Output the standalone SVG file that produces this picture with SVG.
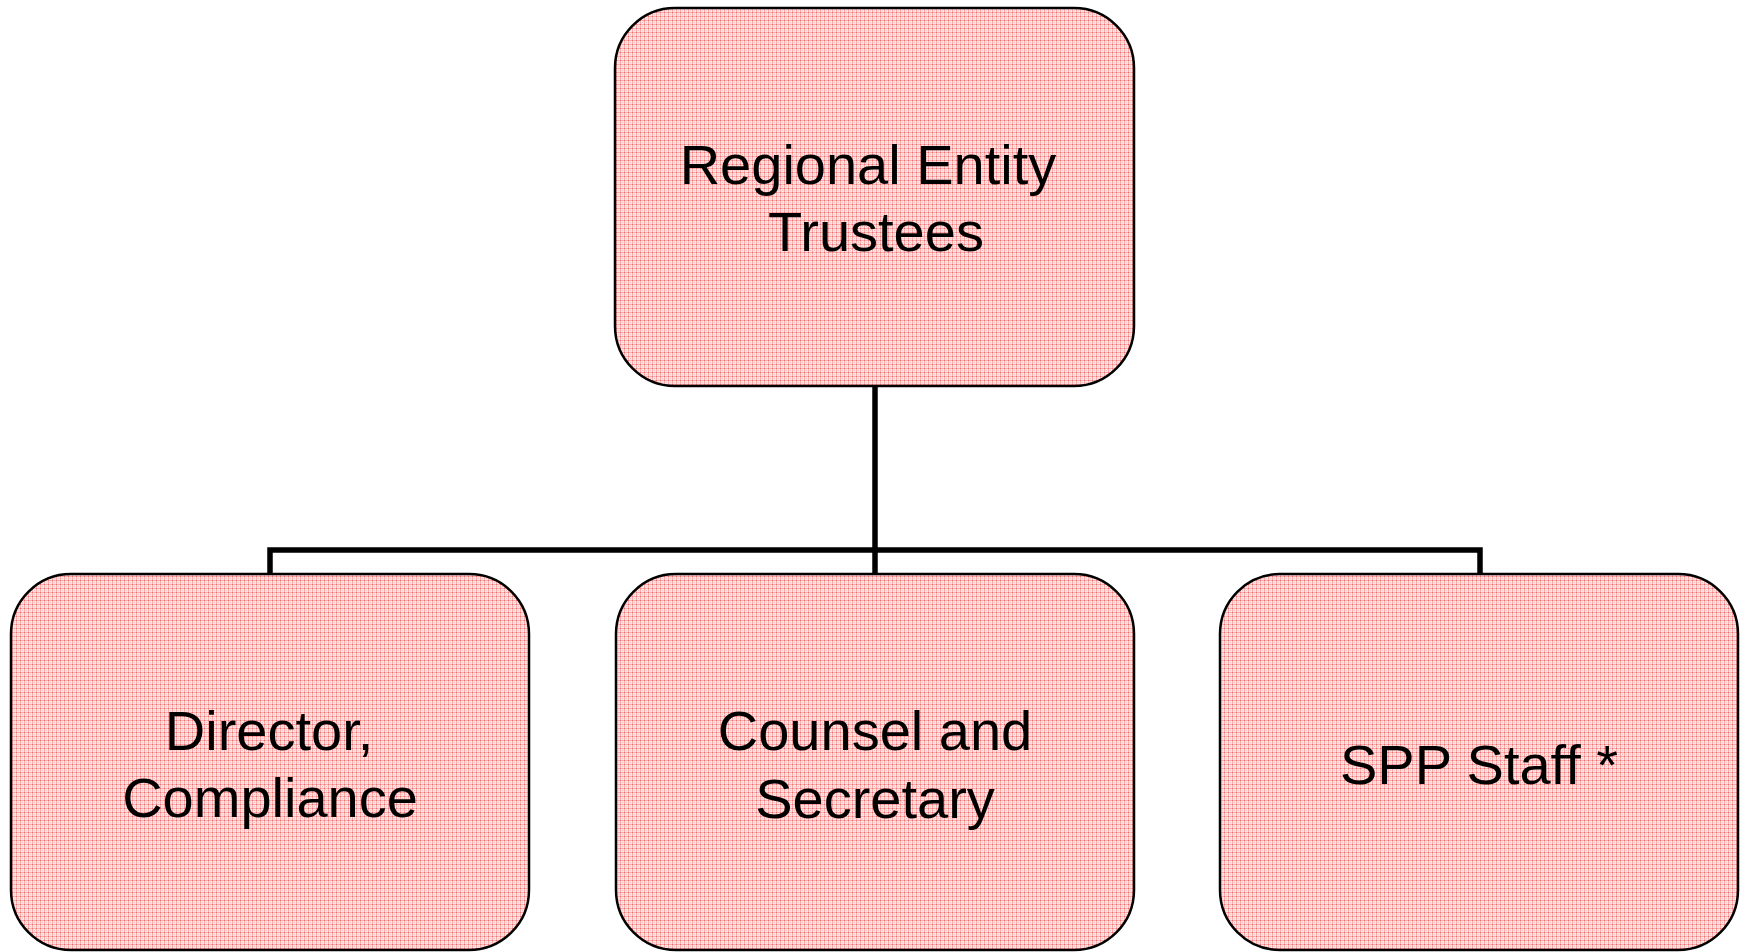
<svg xmlns="http://www.w3.org/2000/svg" width="1747" height="952" viewBox="0 0 1747 952">
<defs>
<pattern id="pinkfill" x="0" y="0" width="4" height="4" patternUnits="userSpaceOnUse">
<rect x="0" y="0" width="4" height="4" fill="#ffe4e4"/>
<rect x="0" y="0" width="4" height="1" fill="#f8acac"/>
<rect x="0" y="0" width="1" height="4" fill="#f8acac"/>
<rect x="0" y="0" width="1" height="1" fill="#ee7070"/>
<rect x="2" y="2" width="1" height="1" fill="#fac0c0"/>
</pattern>
<style>
.box{fill:url(#pinkfill);stroke:#000;stroke-width:2.5}
.lbl{font-family:"Liberation Sans",Arial,sans-serif;font-size:56px;fill:#000;text-anchor:middle}
.conn{fill:none;stroke:#000;stroke-width:5.5;stroke-linecap:butt;stroke-linejoin:miter}
</style>
</defs>
<rect x="0" y="0" width="1747" height="952" fill="#fff"/>
<g id="connectors">
<path class="conn" d="M875,386 V550"/>
<path class="conn" d="M270,574 V550 H1480 V574"/>
<path class="conn" d="M875,550 V574"/>
</g>
<g id="node-trustees">
<rect class="box" x="615" y="8" width="519" height="378" rx="60" ry="60"/>
<text class="lbl" x="868" y="184">Regional Entity</text>
<text class="lbl" x="876" y="251">Trustees</text>
</g>
<g id="node-director">
<rect class="box" x="11" y="574" width="518" height="376" rx="60" ry="60"/>
<text class="lbl" x="269" y="750">Director,</text>
<text class="lbl" x="270" y="817">Compliance</text>
</g>
<g id="node-counsel">
<rect class="box" x="616" y="574" width="518" height="376" rx="60" ry="60"/>
<text class="lbl" x="875" y="750">Counsel and</text>
<text class="lbl" x="875" y="818">Secretary</text>
</g>
<g id="node-spp">
<rect class="box" x="1220" y="574" width="518" height="376" rx="60" ry="60"/>
<text class="lbl" x="1479" y="784">SPP Staff *</text>
</g>
</svg>
